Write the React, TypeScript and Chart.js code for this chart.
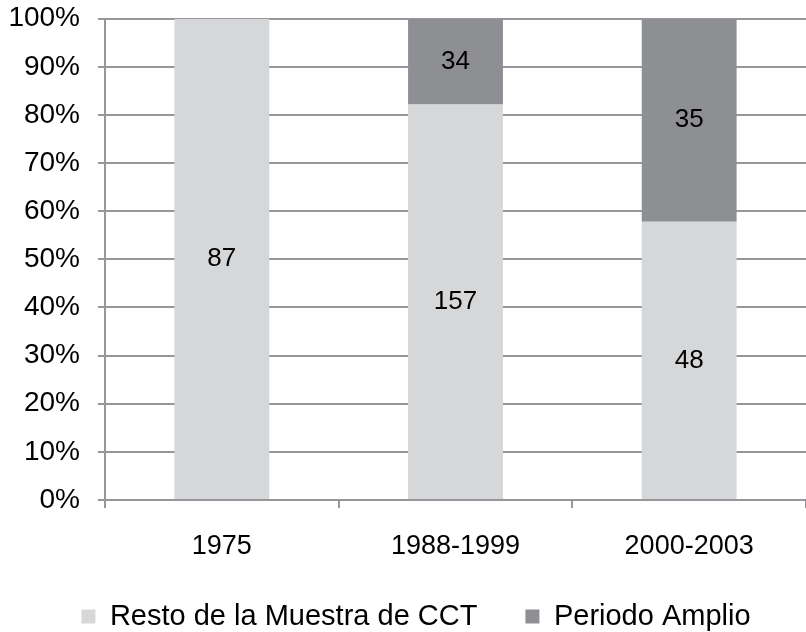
import React, { useEffect, useRef } from "react";
import { Chart, registerables } from "chart.js";

Chart.register(...registerables);

const categories = ["1975", "1988-1999", "2000-2003"];
const restoCounts = [87, 157, 48];
const amplioCounts = [0, 34, 35];
const seriesNames = ["Resto de la Muestra de CCT", "Periodo Amplio"];
const yTicks = [0, 10, 20, 30, 40, 50, 60, 70, 80, 90, 100];

const LIGHT = "rgb(214,215,217)";
const DARK = "rgb(142,143,147)";
const GRID = "rgb(150,150,155)";
const FONT = "'Liberation Sans', Arial, Helvetica, sans-serif";

const toPct = (a: number[], b: number[]) => a.map((v, i) => (v / (a[i] + b[i])) * 100);

const countLabels = {
  id: "countLabels",
  afterLayout(chart: any) {
    if (chart.legend) chart.legend.left = 26;
  },
  afterDatasetsDraw(chart: any) {
    const ctx = chart.ctx;
    ctx.save();
    ctx.font = `26px ${FONT}`;
    ctx.fillStyle = "#000";
    ctx.textAlign = "center";
    ctx.textBaseline = "middle";
    chart.data.datasets.forEach((ds: any, di: number) => {
      const meta = chart.getDatasetMeta(di);
      meta.data.forEach((bar: any, i: number) => {
        const c = ds.counts[i];
        if (!c) return;
        ctx.fillText(String(c), bar.x, (bar.y + bar.base) / 2);
      });
    });
    ctx.restore();
  },
};

export default function App() {
  const ref = useRef<HTMLCanvasElement>(null);
  useEffect(() => {
    if (!ref.current) return;
    const chart = new Chart(ref.current, {
      type: "bar",
      data: {
        labels: categories,
        datasets: [
          {
            label: seriesNames[0],
            data: toPct(restoCounts, amplioCounts),
            counts: restoCounts,
            backgroundColor: LIGHT,
            borderWidth: 0,
          } as any,
          {
            label: seriesNames[1],
            data: toPct(amplioCounts, restoCounts),
            counts: amplioCounts,
            backgroundColor: DARK,
            borderWidth: 0,
          } as any,
        ],
      },
      options: {
        animation: false,
        responsive: true,
        maintainAspectRatio: false,
        datasets: { bar: { barPercentage: 0.406, categoryPercentage: 1 } },
        layout: { padding: { left: 0, top: 1, right: 0, bottom: 0 } },
        plugins: {
          tooltip: { enabled: false },
          legend: {
            position: "bottom",
            maxHeight: 78,
            labels: {
              color: "#000",
              font: { family: FONT, size: 29 },
              boxWidth: 14,
              boxHeight: 14,
              padding: 48,
            },
          },
        },
        scales: {
          x: {
            stacked: true,
            grid: {
              display: true,
              drawOnChartArea: false,
              drawTicks: true,
              tickLength: 8,
              color: GRID,
              lineWidth: 2,
            },
            border: { color: GRID, width: 2 },
            ticks: { color: "#000", font: { family: FONT, size: 27 }, padding: 22 },
            afterFit: (s: any) => {
              s.height = 54;
            },
          },
          y: {
            stacked: true,
            min: 0,
            max: 100,
            afterBuildTicks: (s: any) => {
              s.ticks = yTicks.map((v) => ({ value: v }));
            },
            grid: { color: GRID, lineWidth: 2, tickLength: 7 },
            border: { color: GRID, width: 2 },
            ticks: {
              color: "#000",
              font: { family: FONT, size: 28, lineHeight: 0.05 },
              padding: 18,
              callback: (v: any) => `${v}%`,
            },
            afterFit: (s: any) => {
              s.width = 105;
            },
          },
        },
      },
      plugins: [countLabels],
    });
    return () => chart.destroy();
  }, []);
  return (
    <div style={{ position: "fixed", left: 0, top: 0, width: 806, height: 632, background: "#fff" }}>
      <canvas ref={ref} />
    </div>
  );
}
